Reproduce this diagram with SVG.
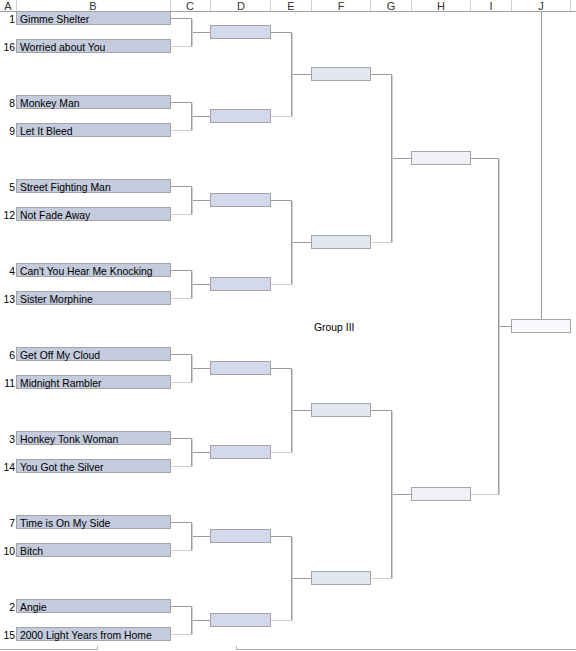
<svg xmlns="http://www.w3.org/2000/svg" width="576" height="651" viewBox="0 0 576 651">
<style>
text{font-family:"Liberation Sans",Arial,sans-serif;font-size:10.4px;fill:#000}
.hdr{font-size:11px;fill:#333;text-anchor:middle}
.seed{text-anchor:end}
.b{fill:#c3cbdc;stroke:#a3a3a3;stroke-width:1}
.d{fill:#d3d9ec;stroke:#a3a3a3;stroke-width:1}
.f{fill:#e3e7f0;stroke:#a3a3a3;stroke-width:1}
.h{fill:#eff1f6;stroke:#a3a3a3;stroke-width:1}
.j{fill:#f9fafd;stroke:#a3a3a3;stroke-width:1}
.dk{fill:none;stroke:#9a9a9a;stroke-width:1}
.lt{fill:none;stroke:#cfcfcf;stroke-width:1}
.grid{stroke:#d0d0d0;stroke-width:1}
</style>
<rect x="0" y="0" width="576" height="651" fill="#fff"/>
<g id="header">
<line x1="0" y1="11.5" x2="576" y2="11.5" stroke="#a0a0a0"/>
<g class="grid">
<line x1="16.5" y1="0" x2="16.5" y2="11"/>
<line x1="170.5" y1="0" x2="170.5" y2="11"/>
<line x1="210.5" y1="0" x2="210.5" y2="11"/>
<line x1="270.5" y1="0" x2="270.5" y2="11"/>
<line x1="311.5" y1="0" x2="311.5" y2="11"/>
<line x1="370.5" y1="0" x2="370.5" y2="11"/>
<line x1="411.5" y1="0" x2="411.5" y2="11"/>
<line x1="470.5" y1="0" x2="470.5" y2="11"/>
<line x1="511.5" y1="0" x2="511.5" y2="11"/>
<line x1="570.5" y1="0" x2="570.5" y2="11"/>
</g>
<text class="hdr" x="8" y="10">A</text>
<text class="hdr" x="93" y="10">B</text>
<text class="hdr" x="190" y="10">C</text>
<text class="hdr" x="241" y="10">D</text>
<text class="hdr" x="291" y="10">E</text>
<text class="hdr" x="341" y="10">F</text>
<text class="hdr" x="391" y="10">G</text>
<text class="hdr" x="441" y="10">H</text>
<text class="hdr" x="491" y="10">I</text>
<text class="hdr" x="541" y="10">J</text>
</g>
<g id="connectors">
<g class="dk">
<path d="M171 18.5H191.5V46"/><path d="M191.5 32.5H210"/>
<path d="M171 102.5H191.5V130"/><path d="M191.5 116.5H210"/>
<path d="M171 186.5H191.5V214"/><path d="M191.5 200.5H210"/>
<path d="M171 270.5H191.5V298"/><path d="M191.5 284.5H210"/>
<path d="M171 354.5H191.5V382"/><path d="M191.5 368.5H210"/>
<path d="M171 438.5H191.5V466"/><path d="M191.5 452.5H210"/>
<path d="M171 522.5H191.5V550"/><path d="M191.5 536.5H210"/>
<path d="M171 606.5H191.5V634"/><path d="M191.5 620.5H210"/>
<path d="M271 32.5H291.5V116"/><path d="M291.5 74.5H311"/>
<path d="M271 200.5H291.5V284"/><path d="M291.5 242.5H311"/>
<path d="M271 368.5H291.5V452"/><path d="M291.5 410.5H311"/>
<path d="M271 536.5H291.5V620"/><path d="M291.5 578.5H311"/>
<path d="M371 74.5H391.5V242"/><path d="M391.5 158.5H411"/>
<path d="M371 410.5H391.5V578"/><path d="M391.5 494.5H411"/>
<path d="M471 158.5H498.5V494"/><path d="M498.5 326.5H511"/>
<path d="M541.5 12V319"/>
</g>
<g class="lt">
<path d="M171 46.5H192.5V19"/><path d="M171 130.5H192.5V103"/>
<path d="M171 214.5H192.5V187"/><path d="M171 298.5H192.5V271"/>
<path d="M171 382.5H192.5V355"/><path d="M171 466.5H192.5V439"/>
<path d="M171 550.5H192.5V523"/><path d="M171 634.5H192.5V607"/>
<path d="M271 116.5H292.5V33"/><path d="M271 284.5H292.5V201"/>
<path d="M271 452.5H292.5V369"/><path d="M271 620.5H292.5V537"/>
<path d="M371 242.5H392.5V75"/><path d="M371 578.5H392.5V411"/>
<path d="M471 494.5H499.5V159"/>
</g>
</g>
<g id="seeds">
<g id="s1"><rect class="b" x="16.5" y="11.5" width="154" height="13"/><text class="seed" x="15" y="22.5">1</text><text x="20" y="22.5">Gimme Shelter</text></g>
<g id="s16"><rect class="b" x="16.5" y="39.5" width="154" height="13"/><text class="seed" x="15" y="50.5">16</text><text x="20" y="50.5">Worried about You</text></g>
<g id="s8"><rect class="b" x="16.5" y="95.5" width="154" height="13"/><text class="seed" x="15" y="106.5">8</text><text x="20" y="106.5">Monkey Man</text></g>
<g id="s9"><rect class="b" x="16.5" y="123.5" width="154" height="13"/><text class="seed" x="15" y="134.5">9</text><text x="20" y="134.5">Let It Bleed</text></g>
<g id="s5"><rect class="b" x="16.5" y="179.5" width="154" height="13"/><text class="seed" x="15" y="190.5">5</text><text x="20" y="190.5">Street Fighting Man</text></g>
<g id="s12"><rect class="b" x="16.5" y="207.5" width="154" height="13"/><text class="seed" x="15" y="218.5">12</text><text x="20" y="218.5">Not Fade Away</text></g>
<g id="s4"><rect class="b" x="16.5" y="263.5" width="154" height="13"/><text class="seed" x="15" y="274.5">4</text><text x="20" y="274.5">Can't You Hear Me Knocking</text></g>
<g id="s13"><rect class="b" x="16.5" y="291.5" width="154" height="13"/><text class="seed" x="15" y="302.5">13</text><text x="20" y="302.5">Sister Morphine</text></g>
<g id="s6"><rect class="b" x="16.5" y="347.5" width="154" height="13"/><text class="seed" x="15" y="358.5">6</text><text x="20" y="358.5">Get Off My Cloud</text></g>
<g id="s11"><rect class="b" x="16.5" y="375.5" width="154" height="13"/><text class="seed" x="15" y="386.5">11</text><text x="20" y="386.5">Midnight Rambler</text></g>
<g id="s3"><rect class="b" x="16.5" y="431.5" width="154" height="13"/><text class="seed" x="15" y="442.5">3</text><text x="20" y="442.5">Honkey Tonk Woman</text></g>
<g id="s14"><rect class="b" x="16.5" y="459.5" width="154" height="13"/><text class="seed" x="15" y="470.5">14</text><text x="20" y="470.5">You Got the Silver</text></g>
<g id="s7"><rect class="b" x="16.5" y="515.5" width="154" height="13"/><text class="seed" x="15" y="526.5">7</text><text x="20" y="526.5">Time is On My Side</text></g>
<g id="s10"><rect class="b" x="16.5" y="543.5" width="154" height="13"/><text class="seed" x="15" y="554.5">10</text><text x="20" y="554.5">Bitch</text></g>
<g id="s2"><rect class="b" x="16.5" y="599.5" width="154" height="13"/><text class="seed" x="15" y="610.5">2</text><text x="20" y="610.5">Angie</text></g>
<g id="s15"><rect class="b" x="16.5" y="627.5" width="154" height="13"/><text class="seed" x="15" y="638.5">15</text><text x="20" y="638.5">2000 Light Years from Home</text></g>
</g>
<g id="round2">
<g id="d1"><rect class="d" x="210.5" y="25.5" width="60" height="13"/></g>
<g id="d2"><rect class="d" x="210.5" y="109.5" width="60" height="13"/></g>
<g id="d3"><rect class="d" x="210.5" y="193.5" width="60" height="13"/></g>
<g id="d4"><rect class="d" x="210.5" y="277.5" width="60" height="13"/></g>
<g id="d5"><rect class="d" x="210.5" y="361.5" width="60" height="13"/></g>
<g id="d6"><rect class="d" x="210.5" y="445.5" width="60" height="13"/></g>
<g id="d7"><rect class="d" x="210.5" y="529.5" width="60" height="13"/></g>
<g id="d8"><rect class="d" x="210.5" y="613.5" width="60" height="13"/></g>
</g>
<g id="round3">
<g id="f1"><rect class="f" x="311.5" y="67.5" width="59" height="13"/></g>
<g id="f2"><rect class="f" x="311.5" y="235.5" width="59" height="13"/></g>
<g id="f3"><rect class="f" x="311.5" y="403.5" width="59" height="13"/></g>
<g id="f4"><rect class="f" x="311.5" y="571.5" width="59" height="13"/></g>
</g>
<g id="round4">
<g id="h1"><rect class="h" x="411.5" y="151.5" width="59" height="13"/></g>
<g id="h2"><rect class="h" x="411.5" y="487.5" width="59" height="13"/></g>
</g>
<g id="final"><rect class="j" x="511.5" y="319.5" width="59" height="13"/></g>
<text id="group-label" x="314" y="331">Group III</text>
<g id="footer" fill="none" stroke="#b0b0b0">
<path d="M0 649.5H97.5V646"/>
<path d="M236.5 646V649.5H576"/>
</g>
</svg>
